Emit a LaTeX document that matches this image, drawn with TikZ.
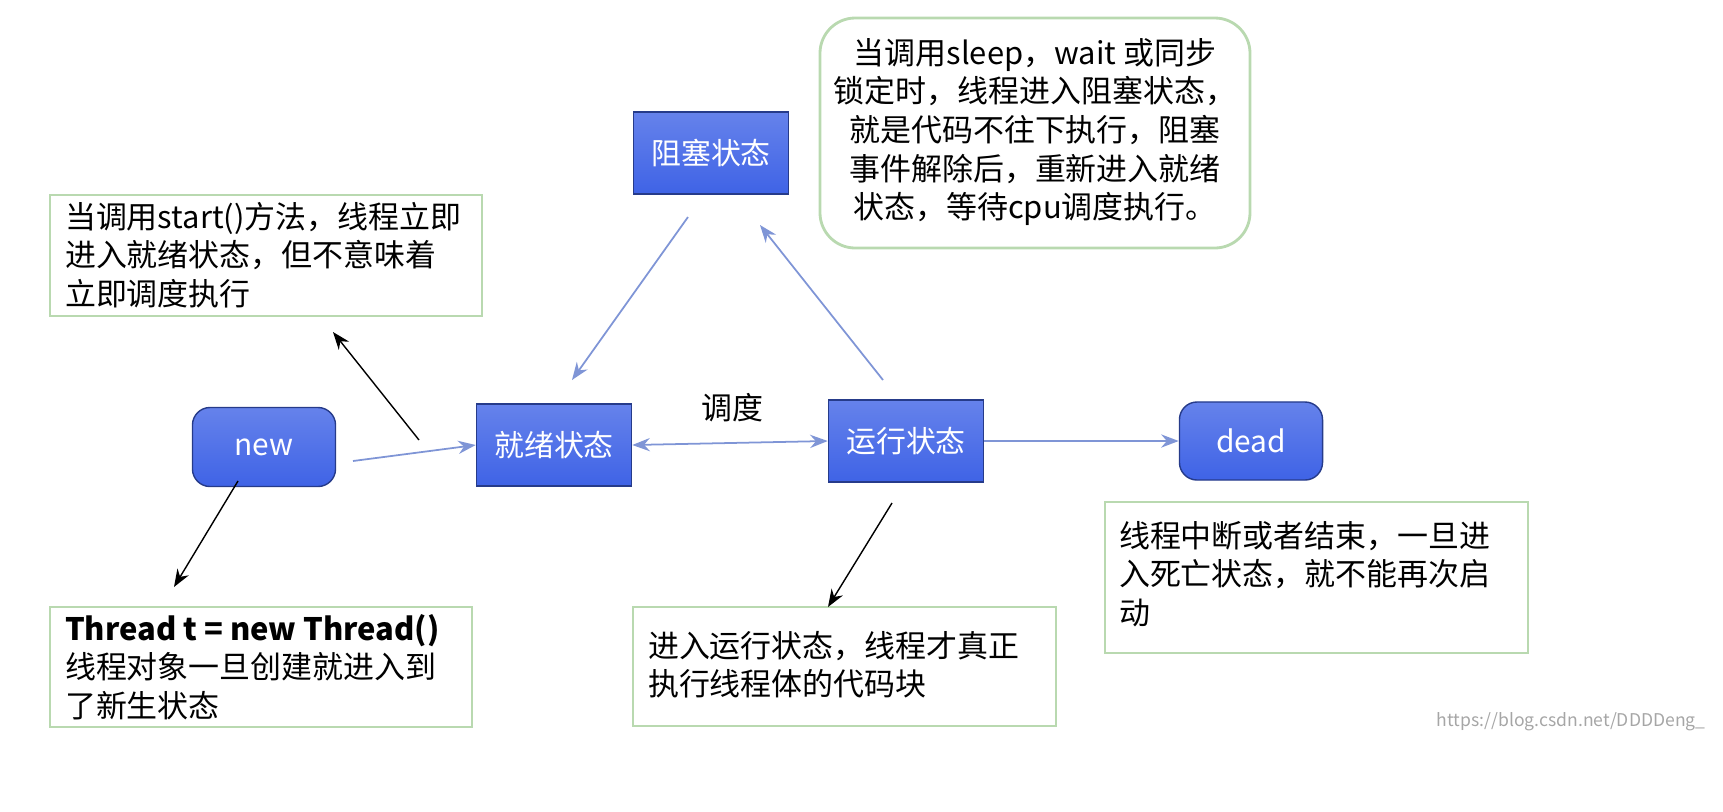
\documentclass[tikz,border=0pt]{standalone}
\usepackage{fontspec}
\setmainfont{Noto Sans CJK SC}
\usetikzlibrary{arrows.meta,positioning}

\definecolor{statblue}{HTML}{3F63E6}
\definecolor{notegreen}{HTML}{B9D9B0}
\definecolor{arrblue}{HTML}{7F95D6}

\tikzset{
  state/.style={draw=statblue!60!black, top color=statblue!80!white, bottom color=statblue, text=white, minimum width=1.55cm, minimum height=0.82cm, font=\fontsize{8.5}{10}\selectfont},
  note/.style={draw=notegreen, line width=0.6pt, align=left, anchor=north west, inner sep=0pt, font=\fontsize{8.8}{11}\selectfont},
  link/.style={arrblue, line width=0.5pt, -{Stealth[length=5pt]}},
  hint/.style={black, line width=0.4pt, -{Stealth[length=5pt]}}
}

\begin{document}
\begin{tikzpicture}[x=0.01cm, y=-0.01cm]
\useasboundingbox (0,0) rectangle (1723,811);

% states
\node[state] (blocked) at (711,153) {阻塞状态};
\node[state] (ready) at (554,445) {就绪状态};
\node[state] (running) at (906,441) {运行状态};
\node[state, rounded corners=5pt, minimum width=1.43cm, minimum height=0.79cm] (new) at (264,447) {new};
\node[state, rounded corners=5pt, minimum width=1.43cm, minimum height=0.78cm] (dead) at (1251,441) {dead};

% notes
\draw[notegreen, line width=0.6pt] (50,195) rectangle (482,316);
\node[note, draw=none] (startnote) at (64,201) {当调用start()方法，线程立即\\进入就绪状态，但不意味着\\立即调度执行};
\draw[notegreen, line width=0.6pt] (50,607) rectangle (472,727);
\node[note, draw=none] (newnote) at (64,613) {\textbf{Thread t = new Thread()}\\线程对象一旦创建就进入到\\了新生状态};
\draw[notegreen, line width=0.6pt] (633,607) rectangle (1056,726);
\node[note, draw=none] (runnote) at (647,630) {进入运行状态，线程才真正\\执行线程体的代码块};
\draw[notegreen, line width=0.6pt] (1105,502) rectangle (1528,653);
\node[note, draw=none] (deadnote) at (1118,520) {线程中断或者结束，一旦进\\入死亡状态，就不能再次启\\动};
\draw[notegreen, line width=0.8pt, rounded corners=10pt] (820,18) rectangle (1250,248);
\node[note, draw=none, align=center, anchor=center] (blocknote) at (1035,132) {当调用sleep，wait 或同步\\锁定时，线程进入阻塞状态，\\就是代码不往下执行，阻塞\\事件解除后，重新进入就绪\\状态，等待cpu调度执行。};

\node[font=\fontsize{8.8}{10}\selectfont] (sched) at (732,408) {调度};

% free ends
\coordinate (newout) at (353,461);
\coordinate (blkfrom) at (688,217);
\coordinate (blkto) at (572,380);
\coordinate (runfrom) at (883,380);
\coordinate (runto) at (760,225);
\coordinate (s1) at (419,440);
\coordinate (s2) at (333,332);
\coordinate (n1) at (238,481);
\coordinate (n2) at (174,587);
\coordinate (r1) at (892,503);
\coordinate (r2) at (828,607);

% connectors
\draw[link] (newout) -- (ready.west);
\draw[link, {Stealth[length=5pt]}-{Stealth[length=5pt]}] (ready.east) -- (running.west);
\draw[link] (running.east) -- (dead.west);
\draw[link] (blkfrom) -- (blkto);
\draw[link] (runfrom) -- (runto);
\draw[hint] (s1) -- (s2);
\draw[hint] (n1) -- (n2);
\draw[hint] (r1) -- (r2);

\node[gray!70, font=\fontsize{5}{6}\selectfont, anchor=east] (mark) at (1718,722) {https://blog.csdn.net/DDDDeng\_};
\end{tikzpicture}
\end{document}
